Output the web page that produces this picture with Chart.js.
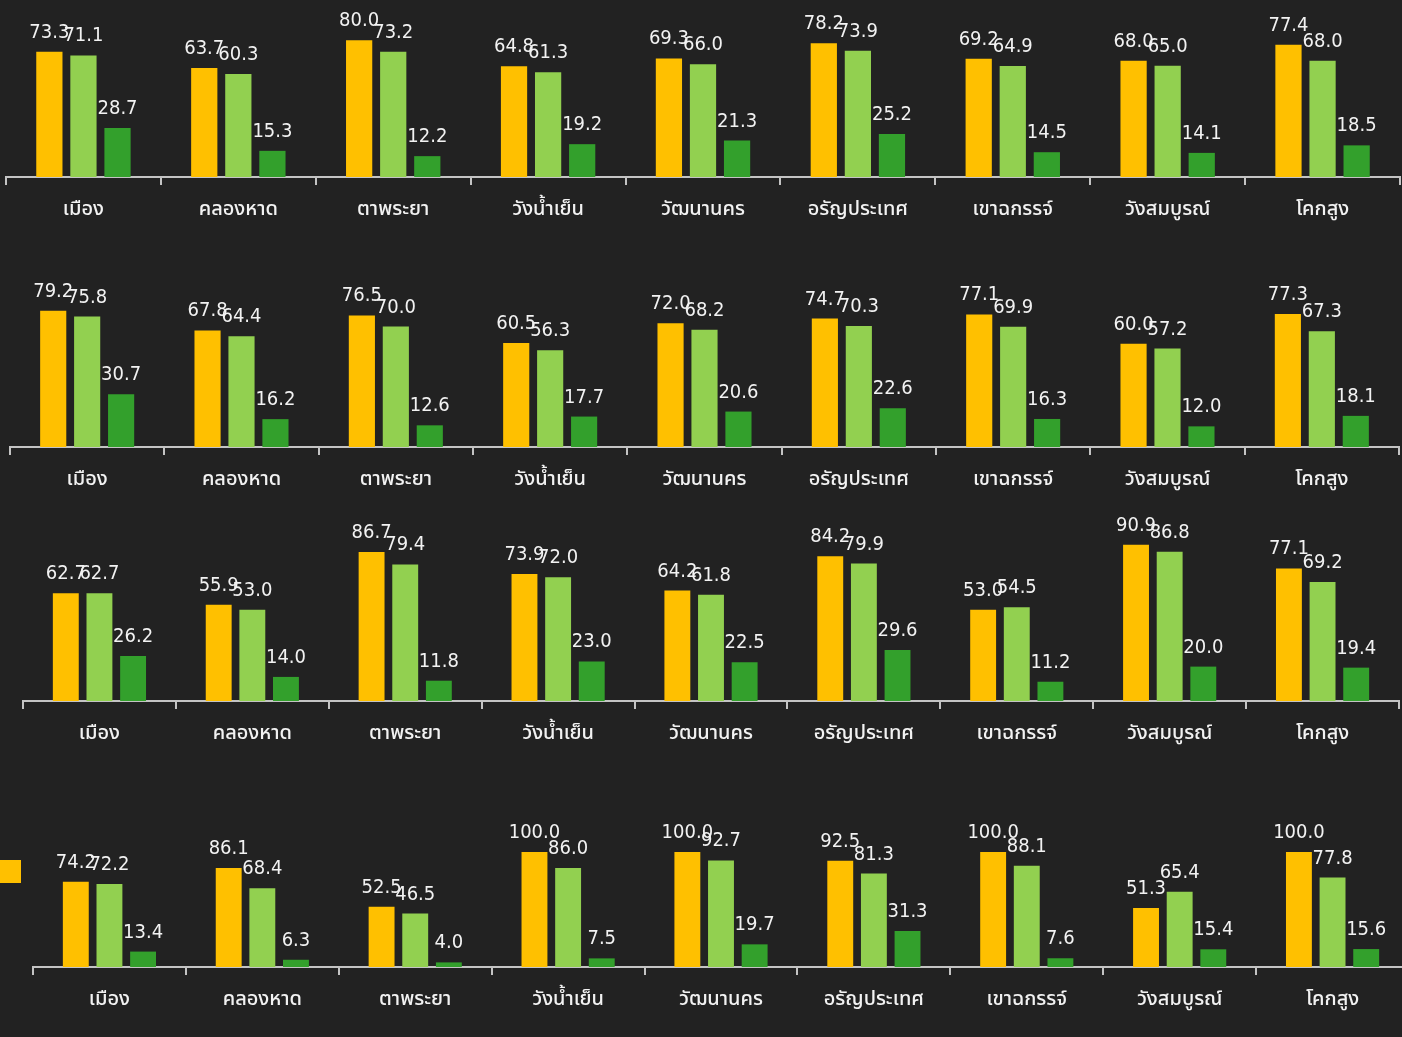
<!DOCTYPE html>
<html>
<head>
<meta charset="utf-8">
<script src="https://cdn.jsdelivr.net/npm/chart.js@4/dist/chart.umd.min.js"></script>
<style>
  html, body { margin: 0; padding: 0; background: #222222; }
  body { width: 1402px; height: 1037px; position: relative; overflow: hidden; }
  canvas { position: absolute; left: 0; }
  .stub { position: absolute; left: 0; top: 860px; width: 21px; height: 23px; background: #ffc000; }
</style>
</head>
<body>
<canvas id="row1" width="1402" height="255"></canvas>
<canvas id="row2" width="1402" height="255"></canvas>
<canvas id="row3" width="1402" height="255"></canvas>
<canvas id="row4" width="1412" height="255"></canvas>
<div class="stub"></div>
<script>
const districts = ['เมือง', 'คลองหาด', 'ตาพระยา', 'วังน้ำเย็น', 'วัฒนานคร', 'อรัญประเทศ', 'เขาฉกรรจ์', 'วังสมบูรณ์', 'โคกสูง'];

// row 1
const row1Yellow = [73.3, 63.7, 80.0, 64.8, 69.3, 78.2, 69.2, 68.0, 77.4];
const row1Light  = [71.1, 60.3, 73.2, 61.3, 66.0, 73.9, 64.9, 65.0, 68.0];
const row1Dark   = [28.7, 15.3, 12.2, 19.2, 21.3, 25.2, 14.5, 14.1, 18.5];

// row 2
const row2Yellow = [79.2, 67.8, 76.5, 60.5, 72.0, 74.7, 77.1, 60.0, 77.3];
const row2Light  = [75.8, 64.4, 70.0, 56.3, 68.2, 70.3, 69.9, 57.2, 67.3];
const row2Dark   = [30.7, 16.2, 12.6, 17.7, 20.6, 22.6, 16.3, 12.0, 18.1];

// row 3
const row3Yellow = [62.7, 55.9, 86.7, 73.9, 64.2, 84.2, 53.0, 90.9, 77.1];
const row3Light  = [62.7, 53.0, 79.4, 72.0, 61.8, 79.9, 54.5, 86.8, 69.2];
const row3Dark   = [26.2, 14.0, 11.8, 23.0, 22.5, 29.6, 11.2, 20.0, 19.4];

// row 4
const row4Yellow = [74.2, 86.1, 52.5, 100.0, 100.0, 92.5, 100.0, 51.3, 100.0];
const row4Light  = [72.2, 68.4, 46.5, 86.0, 92.7, 81.3, 88.1, 65.4, 77.8];
const row4Dark   = [13.4, 6.3, 4.0, 7.5, 19.7, 31.3, 7.6, 15.4, 15.6];

const YELLOW = '#ffc000';
const LIGHT = '#92d050';
const DARK = '#33a02c';
const AXIS = '#c4c4c4';
const TEXT = '#f2f2f2';
const thaiFont = '"Noto Sans Thai", "Loma", "Garuda", "Tlwg Typist", "Noto Sans", sans-serif';
const numFont = '"DejaVu Sans Condensed", "Liberation Sans Narrow", sans-serif';

// value labels above each bar
const valueLabels = {
    id: 'valueLabels',
    afterDatasetsDraw(chart) {
        const ctx = chart.ctx;
        ctx.save();
        ctx.font = '20px ' + numFont;
        ctx.fillStyle = TEXT;
        ctx.textAlign = 'center';
        ctx.textBaseline = 'alphabetic';
        chart.data.datasets.forEach((ds, i) => {
            chart.getDatasetMeta(i).data.forEach((bar, j) => {
                ctx.fillText(ds.data[j].toFixed(1), bar.x, bar.y - 14);
            });
        });
        ctx.restore();
    }
};

function makeRow(id, yellow, light, dark, axisY, areaHeight, padLeft, padRight) {
    const canvas = document.getElementById(id);
    canvas.style.top = (axisY - 205) + 'px';
    return new Chart(canvas, {
        type: 'bar',
        data: {
            labels: districts,
            datasets: [
                { data: yellow, backgroundColor: YELLOW },
                { data: light, backgroundColor: LIGHT },
                { data: dark, backgroundColor: DARK }
            ]
        },
        options: {
            responsive: false,
            animation: false,
            devicePixelRatio: 1,
            categoryPercentage: 0.66,
            barPercentage: 0.77,
            layout: { padding: { left: padLeft, right: padRight, top: 205 - areaHeight, bottom: 0 } },
            plugins: { legend: { display: false }, tooltip: { enabled: false } },
            scales: {
                x: {
                    grid: { display: true, drawOnChartArea: false, drawTicks: true, tickLength: 8, color: AXIS, lineWidth: 2, offset: true },
                    border: { display: true, color: AXIS, width: 2 },
                    ticks: { color: TEXT, font: { size: 20, family: thaiFont, weight: '500' }, padding: 14, maxRotation: 0, autoSkip: false },
                    afterFit: s => { s.height = 50; }
                },
                y: { display: false, min: 0, max: 100 }
            }
        },
        plugins: [valueLabels]
    });
}

makeRow('row1', row1Yellow, row1Light, row1Dark, 177, 171, 6, 2);
makeRow('row2', row2Yellow, row2Light, row2Dark, 447, 172, 10, 3);
makeRow('row3', row3Yellow, row3Light, row3Dark, 701, 172, 23, 3);
makeRow('row4', row4Yellow, row4Light, row4Dark, 967, 115, 33, 3);
</script>
</body>
</html>
